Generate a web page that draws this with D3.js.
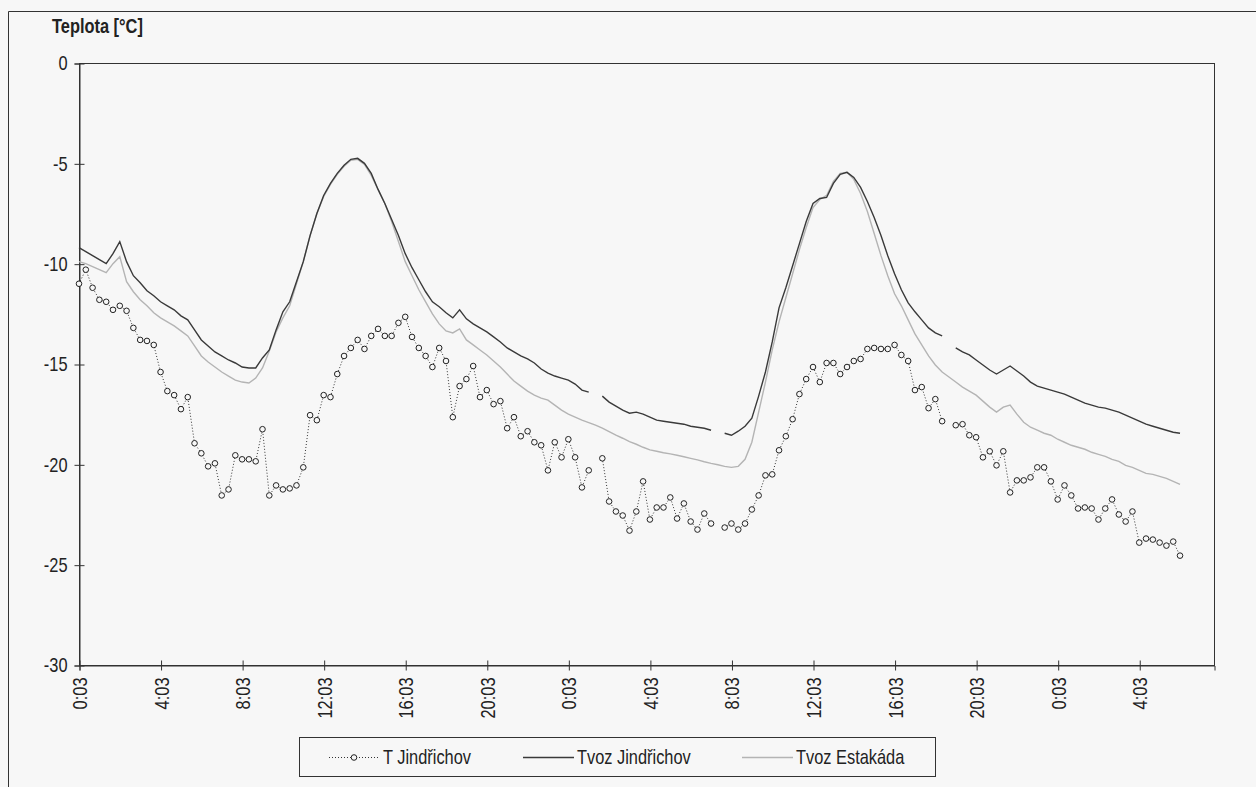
<!DOCTYPE html>
<html>
<head>
<meta charset="utf-8">
<script src="https://cdn.jsdelivr.net/npm/d3@7"></script>
<style>
  html, body { margin: 0; padding: 0; background: #f7f7f7; }
  svg { display: block; }
  text { font-family: "Liberation Sans", Arial, sans-serif; fill: #222; }
</style>
</head>
<body>
<svg id="chart" width="1256" height="787"></svg>
<script>
// measurements every 20 minutes, starting 0:03 (null = missing record)
var tJindrichov = [
  -11.0, -10.3, -11.2, -11.8, -11.9, -12.3, -12.1, -12.35, -13.2, -13.8,
  -13.85, -14.05, -15.4, -16.35, -16.55, -17.25, -16.65, -18.95, -19.45, -20.1,
  -19.95, -21.55, -21.25, -19.55, -19.75, -19.75, -19.85, -18.25, -21.55, -21.05,
  -21.25, -21.2, -21.05, -20.15, -17.55, -17.8, -16.55, -16.65, -15.5, -14.6,
  -14.2, -13.8, -14.25, -13.6, -13.25, -13.6, -13.6, -12.95, -12.65, -13.65,
  -14.2, -14.6, -15.15, -14.2, -14.85, -17.65, -16.1, -15.75, -15.1, -16.65,
  -16.3, -17.0, -16.85, -18.2, -17.65, -18.6, -18.35, -18.9, -19.05, -20.3,
  -18.9, -19.65, -18.75, -19.65, -21.15, -20.3, null, -19.7, -21.85, -22.35,
  -22.55, -23.3, -22.35, -20.85, -22.75, -22.15, -22.15, -21.65, -22.7, -21.95,
  -22.85, -23.25, -22.45, -22.95, null, -23.15, -22.95, -23.25, -22.95, -22.25,
  -21.55, -20.55, -20.5, -19.3, -18.6, -17.75, -16.5, -15.75, -15.15, -15.9,
  -14.95, -14.95, -15.5, -15.15, -14.85, -14.75, -14.25, -14.2, -14.25, -14.25,
  -14.05, -14.55, -14.85, -16.3, -16.15, -17.2, -16.75, -17.85, null, -18.05,
  -18.0, -18.55, -18.65, -19.65, -19.35, -20.05, -19.35, -21.4, -20.8, -20.8,
  -20.65, -20.15, -20.15, -20.85, -21.75, -21.05, -21.55, -22.2, -22.15, -22.2,
  -22.75, -22.2, -21.75, -22.5, -22.85, -22.35, -23.9, -23.7, -23.75, -23.9,
  -24.05, -23.85, -24.55
];

var tvozJindrichov = [
  -9.2, -9.4, -9.6, -9.8, -10.0, -9.5, -8.9, -9.9, -10.6, -10.95,
  -11.35, -11.6, -11.9, -12.1, -12.3, -12.6, -12.8, -13.3, -13.8, -14.1,
  -14.4, -14.6, -14.8, -14.95, -15.15, -15.2, -15.2, -14.7, -14.3, -13.3,
  -12.4, -11.9, -10.9, -9.9, -8.6, -7.5, -6.6, -6.0, -5.5, -5.1,
  -4.8, -4.75, -5.0, -5.5, -6.3, -7.0, -7.8, -8.6, -9.5, -10.2,
  -10.8, -11.4, -11.9, -12.15, -12.45, -12.7, -12.3, -12.75, -13.0, -13.2,
  -13.4, -13.65, -13.9, -14.2, -14.4, -14.6, -14.75, -14.95, -15.25, -15.45,
  -15.6, -15.7, -15.8, -16.0, -16.3, -16.4, null, -16.6, -16.9, -17.1,
  -17.3, -17.45, -17.4, -17.5, -17.65, -17.8, -17.85, -17.9, -17.95, -18.0,
  -18.1, -18.15, -18.2, -18.3, null, -18.45, -18.55, -18.35, -18.1, -17.7,
  -16.6, -15.4, -13.9, -12.2, -11.2, -10.1, -9.0, -7.9, -7.0, -6.75,
  -6.7, -6.0, -5.55, -5.45, -5.7, -6.2, -6.9, -7.7, -8.6, -9.6,
  -10.5, -11.3, -11.95, -12.4, -12.8, -13.2, -13.45, -13.6, null, -14.2,
  -14.4, -14.55, -14.8, -15.05, -15.3, -15.5, -15.3, -15.1, -15.35, -15.6,
  -15.9, -16.1, -16.2, -16.3, -16.4, -16.5, -16.65, -16.8, -16.95, -17.05,
  -17.15, -17.2, -17.3, -17.4, -17.55, -17.7, -17.85, -18.0, -18.1, -18.2,
  -18.3, -18.4, -18.45
];

var tvozEstakada = [
  -9.9, -10.0, -10.15, -10.3, -10.45, -10.0, -9.65, -10.9, -11.4, -11.8,
  -12.1, -12.45, -12.7, -12.9, -13.1, -13.35, -13.6, -14.1, -14.6, -14.9,
  -15.15, -15.4, -15.6, -15.8, -15.9, -15.95, -15.7, -15.2, -14.35, -13.4,
  -12.7, -12.1, -11.0, -9.9, -8.6, -7.5, -6.65, -6.05, -5.55, -5.15,
  -4.85, -4.8, -5.05, -5.6, -6.3, -7.0, -7.9, -8.9, -9.9, -10.6,
  -11.3, -11.9, -12.5, -13.0, -13.35, -13.45, -13.25, -13.8, -14.05, -14.3,
  -14.55, -14.85, -15.15, -15.5, -15.85, -16.1, -16.35, -16.55, -16.7, -16.8,
  -17.05, -17.3, -17.5, -17.65, -17.8, -17.92, -18.05, -18.2, -18.37, -18.55,
  -18.7, -18.87, -19.0, -19.15, -19.28, -19.35, -19.42, -19.48, -19.55, -19.62,
  -19.7, -19.78, -19.87, -19.95, -20.02, -20.1, -20.15, -20.1, -19.75, -18.9,
  -17.4, -15.9, -14.3, -12.9, -11.7, -10.5, -9.3, -8.2, -7.2, -6.8,
  -6.6, -5.9, -5.5, -5.45, -5.8, -6.5, -7.4, -8.5, -9.6, -10.6,
  -11.5, -12.1, -12.8, -13.5, -14.05, -14.6, -15.05, -15.4, -15.65, -15.9,
  -16.15, -16.35, -16.55, -16.85, -17.15, -17.4, -17.15, -17.05, -17.5, -17.9,
  -18.15, -18.3, -18.45, -18.55, -18.75, -18.9, -19.05, -19.15, -19.25, -19.4,
  -19.5, -19.6, -19.75, -19.85, -20.05, -20.15, -20.3, -20.45, -20.5, -20.6,
  -20.7, -20.85, -21.0
];

// tick every 4 hours = 12 samples
var xTickIndex = [0, 12, 24, 36, 48, 60, 72, 84, 96, 108, 120, 132, 144, 156];
var xTickLabels = ['0:03', '4:03', '8:03', '12:03', '16:03', '20:03', '0:03',
                   '4:03', '8:03', '12:03', '16:03', '20:03', '0:03', '4:03'];
var yTicks = [0, -5, -10, -15, -20, -25, -30];
var seriesNames = ['T Jindřichov', 'Tvoz Jindřichov', 'Tvoz Estakáda'];

var svg = d3.select('#chart'),
    axisColor = '#333',
    narrow = 0.82;   // the original font is a condensed face

// outer frame (only top/left visible in the crop)
svg.append('path')
  .attr('d', 'M8.5,787V11.5H1256')
  .attr('fill', 'none')
  .attr('stroke', axisColor);

var x = d3.scaleLinear().domain([0, 167]).range([79, 1214]),
    y = d3.scaleLinear().domain([-30, 0]).range([665, 63]);

// plot area border
svg.append('rect')
  .attr('x', x(0) + 0.5).attr('y', y(0) + 0.5)
  .attr('width', x(167) - x(0)).attr('height', y(-30) - y(0))
  .attr('fill', 'none')
  .attr('stroke', axisColor);

// y axis
var yAxis = svg.append('g')
  .attr('transform', 'translate(' + (x(0) + 0.5) + ',0.5)')
  .call(d3.axisLeft(y).tickValues(yTicks).tickFormat(function (d) { return String(d); }).tickSize(5));
yAxis.select('.domain').attr('stroke', axisColor);
yAxis.selectAll('.tick line').attr('x1', 5).attr('x2', -5).attr('stroke', axisColor);
yAxis.selectAll('.tick text')
  .attr('font-size', 20)
  .attr('fill', '#222')
  .attr('transform', 'scale(' + narrow + ',1)')
  .attr('x', -12 / narrow);

// x axis
var xAxis = svg.append('g')
  .attr('transform', 'translate(0.5,' + (y(-30) + 0.5) + ')')
  .call(d3.axisBottom(x).tickValues(xTickIndex)
    .tickFormat(function (d, i) { return xTickLabels[i]; }).tickSize(5));
xAxis.select('.domain').attr('stroke', axisColor);
xAxis.selectAll('.tick line').attr('y1', -5).attr('y2', 5).attr('stroke', axisColor);
xAxis.selectAll('.tick text')
  .attr('font-size', 20)
  .attr('fill', '#222')
  .attr('transform', 'rotate(-90) scale(' + narrow + ',1)')
  .attr('text-anchor', 'end')
  .attr('x', -12 / narrow)
  .attr('y', 0)
  .attr('dy', '0.35em');

// axis title
svg.append('text')
  .attr('transform', 'translate(52,33) scale(' + narrow + ',1)')
  .attr('font-size', 20)
  .attr('font-weight', 'bold')
  .text('Teplota [°C]');

var line = d3.line()
  .defined(function (d) { return d != null; })
  .x(function (d, i) { return x(i); })
  .y(function (d) { return y(d); });

svg.append('path')
  .datum(tvozEstakada)
  .attr('d', line)
  .attr('fill', 'none')
  .attr('stroke', '#b4b4b4')
  .attr('stroke-width', 1.4);

svg.append('path')
  .datum(tvozJindrichov)
  .attr('d', line)
  .attr('fill', 'none')
  .attr('stroke', '#3a3a3a')
  .attr('stroke-width', 1.4);

svg.append('path')
  .datum(tJindrichov)
  .attr('d', line)
  .attr('fill', 'none')
  .attr('stroke', '#333')
  .attr('stroke-width', 1)
  .attr('stroke-dasharray', '1,2');

svg.append('g').selectAll('circle')
  .data(tJindrichov.map(function (v, i) { return { i: i, v: v }; })
    .filter(function (d) { return d.v != null; }))
  .join('circle')
  .attr('cx', function (d) { return x(d.i); })
  .attr('cy', function (d) { return y(d.v); })
  .attr('r', 2.8)
  .attr('fill', '#f7f7f7')
  .attr('stroke', '#222')
  .attr('stroke-width', 1);

// legend
var legend = svg.append('g');
legend.append('rect')
  .attr('x', 299.5).attr('y', 737.5)
  .attr('width', 636).attr('height', 39)
  .attr('fill', '#f7f7f7')
  .attr('stroke', axisColor);

var legendItems = [
  { x: 329, stroke: '#333', dash: '1,2', marker: true },
  { x: 523, stroke: '#3a3a3a', dash: null, marker: false },
  { x: 742, stroke: '#b4b4b4', dash: null, marker: false }
];
var ly = 757;
legendItems.forEach(function (it, k) {
  legend.append('line')
    .attr('x1', it.x).attr('x2', it.x + 51)
    .attr('y1', ly + 0.5).attr('y2', ly + 0.5)
    .attr('stroke', it.stroke)
    .attr('stroke-width', it.dash ? 1 : 1.4)
    .attr('stroke-dasharray', it.dash);
  if (it.marker) {
    legend.append('circle')
      .attr('cx', it.x + 25).attr('cy', ly + 0.5).attr('r', 2.8)
      .attr('fill', '#f7f7f7').attr('stroke', '#222');
  }
  legend.append('text')
    .attr('transform', 'translate(' + (it.x + 54) + ',' + ly + ') scale(' + narrow + ',1)')
    .attr('dy', '0.35em')
    .attr('font-size', 20)
    .text(seriesNames[k]);
});
</script>
</body>
</html>
